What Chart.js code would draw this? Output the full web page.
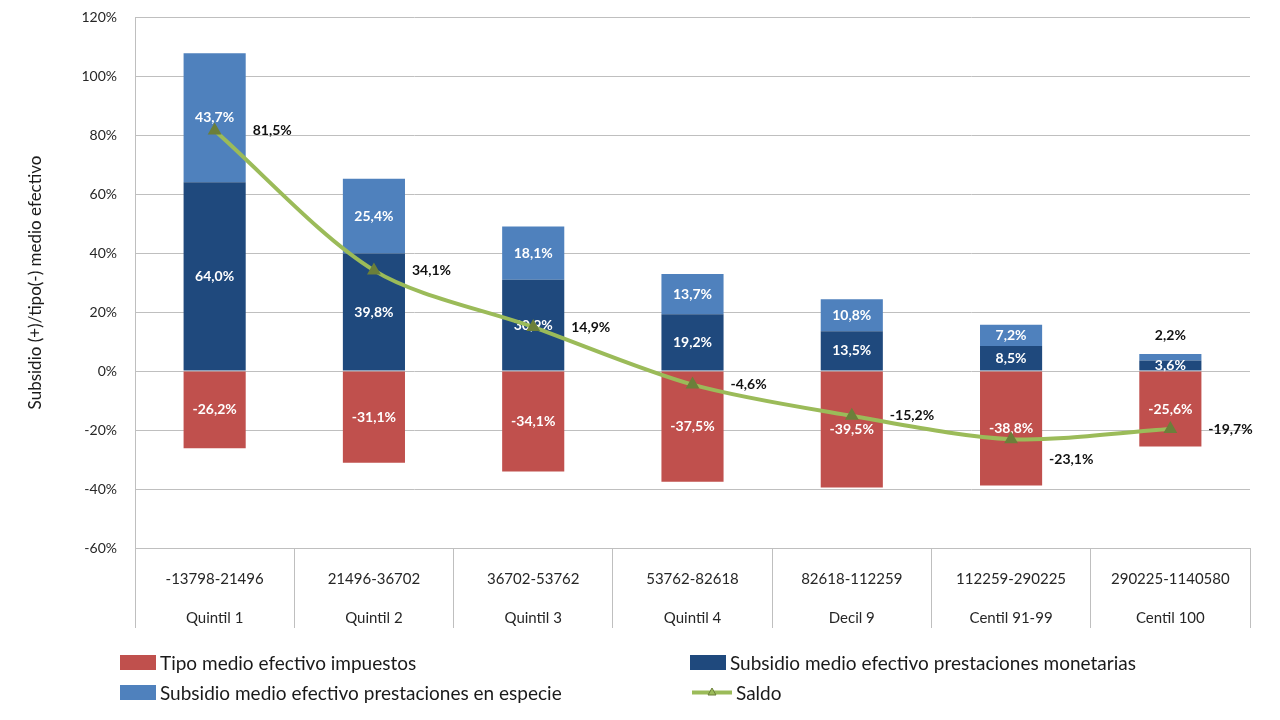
<!DOCTYPE html>
<html>
<head>
<meta charset="utf-8">
<script src="https://cdn.jsdelivr.net/npm/chart.js@4/dist/chart.umd.min.js"></script>
<style>
  html, body { margin: 0; padding: 0; background: #fff; }
  #wrap { position: relative; width: 1280px; height: 720px; }
  #legend {
    position: absolute; left: 120px; top: 650px;
    display: grid; grid-template-columns: 570px auto; row-gap: 6px;
    font-family: Lato, "Open Sans", sans-serif; font-size: 19px; color: #1a1a1a;
  }
  .item { display: flex; align-items: center; height: 24px; }
  .box { width: 36px; height: 15px; margin-right: 4px; }
</style>
</head>
<body>
<div id="wrap">
  <canvas id="chart" width="1280" height="720"></canvas>
  <div id="legend"></div>
</div>
<script>
// income brackets and group names
const ranges = ['-13798-21496', '21496-36702', '36702-53762', '53762-82618', '82618-112259', '112259-290225', '290225-1140580'];
const groups = ['Quintil 1', 'Quintil 2', 'Quintil 3', 'Quintil 4', 'Decil 9', 'Centil 91-99', 'Centil 100'];

// values in %
const impuestos = [-26.2, -31.1, -34.1, -37.5, -39.5, -38.8, -25.6];
const monetarias = [64.0, 39.8, 30.9, 19.2, 13.5, 8.5, 3.6];
const especie = [43.7, 25.4, 18.1, 13.7, 10.8, 7.2, 2.2];
const saldo = [81.5, 34.1, 14.9, -4.6, -15.2, -23.1, -19.7];

const yTicks = [-60, -40, -20, 0, 20, 40, 60, 80, 100, 120];

const RED = '#C0504D', DARK = '#1F497D', LIGHT = '#4F81BD', GREEN = '#9BBB59';
const FONT = 'Lato, "Open Sans", sans-serif';

function fmt(v) {
    return v.toFixed(1).replace('.', ',') + '%';
}

// draws the value labels after each dataset so the line stays above the bar labels
const valueLabels = {
    id: 'valueLabels',
    afterDatasetDraw(chart, args) {
        const ctx = chart.ctx;
        const ds = chart.data.datasets[args.index];
        ctx.save();
        ctx.font = 'bold 14px ' + FONT;
        ctx.textBaseline = 'middle';
        args.meta.data.forEach((el, j) => {
            const v = ds.data[j];
            if (ds.type === 'line') {
                ctx.fillStyle = '#111';
                ctx.textAlign = 'left';
                const dy = j === 5 ? 20 : 0;
                ctx.fillText(fmt(v), el.x + 38, el.y + dy);
            } else {
                const h = Math.abs(el.base - el.y);
                ctx.textAlign = 'center';
                if (h < 10 && v > 0 && ds.label.indexOf('especie') >= 0) {
                    ctx.fillStyle = '#111';
                    ctx.fillText(fmt(v), el.x, el.y - 18);
                } else {
                    ctx.fillStyle = '#fff';
                    ctx.fillText(fmt(v), el.x, (el.y + el.base) / 2);
                }
            }
        });
        ctx.restore();
    }
};

const ctx = document.getElementById('chart').getContext('2d');
const chart = new Chart(ctx, {
    type: 'bar',
    data: {
        labels: ranges.map((r, i) => [r, groups[i]]),
        datasets: [
            { label: 'Tipo medio efectivo impuestos', data: impuestos, backgroundColor: RED, stack: 'a' },
            { label: 'Subsidio medio efectivo prestaciones monetarias', data: monetarias, backgroundColor: DARK, stack: 'a' },
            { label: 'Subsidio medio efectivo prestaciones en especie', data: especie, backgroundColor: LIGHT, stack: 'a' },
            {
                type: 'line', label: 'Saldo', data: saldo, stack: 'saldo', order: -1,
                borderColor: GREEN, borderWidth: 4, backgroundColor: GREEN,
                pointStyle: 'triangle', pointRadius: 4, pointBorderColor: '#6b7f3a',
                pointBackgroundColor: GREEN, tension: 0.3
            }
        ]
    },
    options: {
        responsive: false,
        animation: false,
        barPercentage: 0.39,
        categoryPercentage: 1,
        layout: { padding: { top: 0, right: 30, left: 0, bottom: 92 } },
        plugins: {
            legend: { display: false },
            tooltip: { enabled: false }
        },
        scales: {
            x: {
                stacked: true,
                grid: { offset: true, drawOnChartArea: false, tickLength: 80, color: '#BFBFBF' },
                border: { color: '#BFBFBF' },
                ticks: {
                    padding: -68,
                    color: '#262626',
                    font: { family: FONT, size: 15, lineHeight: 2.6 },
                    maxRotation: 0, autoSkip: false
                },
                afterFit(scale) { scale.height = 80; }
            },
            y: {
                stacked: true,
                min: -60, max: 120,
                afterBuildTicks(scale) { scale.ticks = yTicks.map(v => ({ value: v })); },
                grid: { color: '#BFBFBF', drawTicks: false },
                border: { color: '#BFBFBF' },
                ticks: {
                    padding: 18,
                    color: '#262626',
                    font: { family: FONT, size: 14 },
                    callback: v => v + '%'
                },
                title: {
                    display: true,
                    text: 'Subsidio (+)/tipo(-) medio efectivo',
                    color: '#1a1a1a',
                    font: { family: FONT, size: 17 },
                    padding: { top: 25 }
                },
                afterFit(scale) {
                    scale.width = 135;
                    scale.paddingTop = 17;
                }
            }
        }
    },
    plugins: [valueLabels]
});

// legend in two columns, built from the datasets
const legend = document.getElementById('legend');
[0, 1, 2, 3].forEach(i => {
    const ds = chart.data.datasets[i];
    const item = document.createElement('div');
    item.className = 'item';
    if (ds.type === 'line') {
        item.innerHTML = '<svg width="44" height="15" style="margin-right:2px"><line x1="2" y1="7.5" x2="42" y2="7.5" stroke="' + GREEN + '" stroke-width="4"/><polygon points="22,3 26,10 18,10" fill="' + GREEN + '" stroke="#6b7f3a"/></svg>';
    } else {
        item.innerHTML = '<span class="box" style="background:' + ds.backgroundColor + '"></span>';
    }
    item.appendChild(document.createTextNode(ds.label));
    legend.appendChild(item);
});
</script>
</body>
</html>
